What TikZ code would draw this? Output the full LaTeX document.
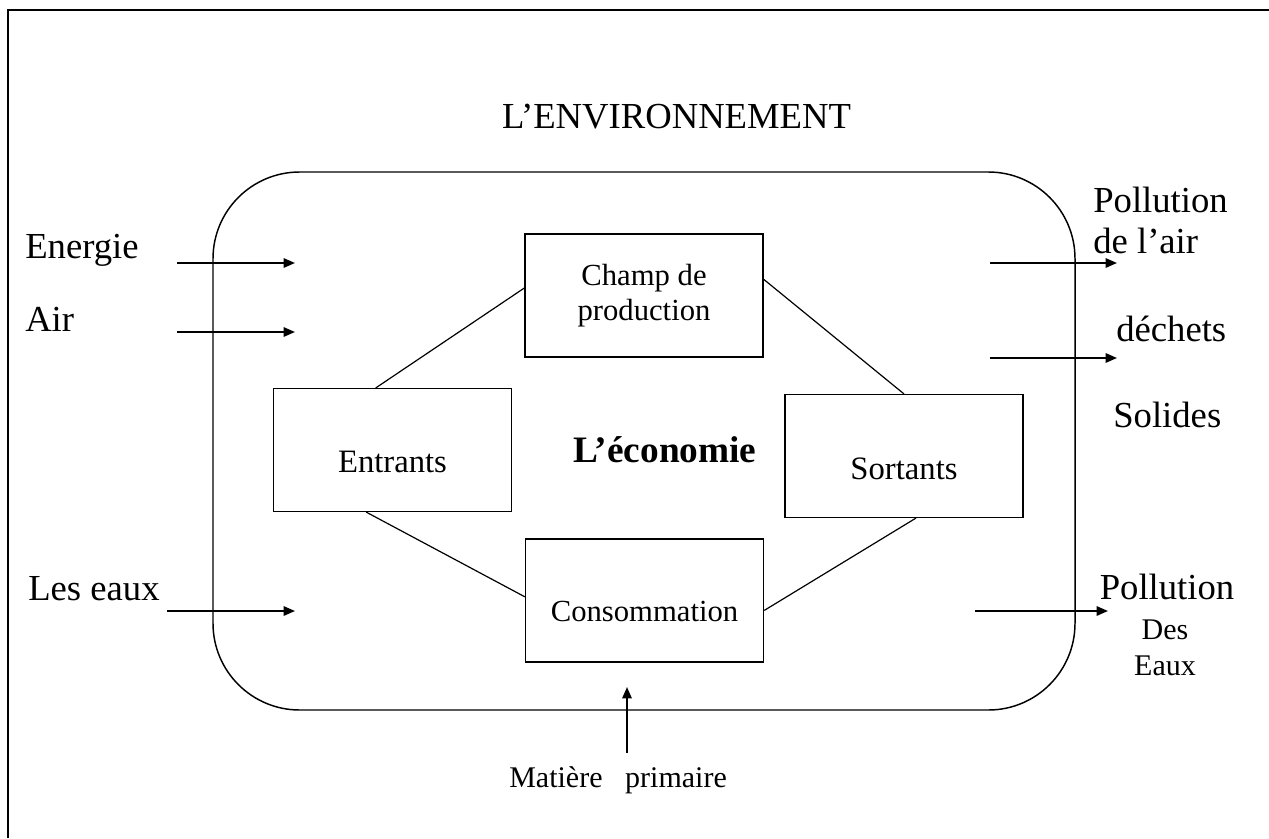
\documentclass[tikz,border=0pt]{standalone}
\usepackage{fontspec}
\setmainfont{Liberation Serif}
\usetikzlibrary{arrows.meta,calc}
\begin{document}
\begin{tikzpicture}[x=0.75pt,y=-0.75pt,
  box/.style={draw,line width=1.1pt,inner sep=0pt,minimum width=178.5pt,minimum height=92pt},
  link/.style={line width=0.9pt},
  flow/.style={line width=1.4pt,-{Triangle[length=8.5pt,width=7pt]}},
  big/.style={font=\fontsize{27.5}{30.75}\selectfont,inner sep=0pt},
  small/.style={font=\fontsize{22.5}{27}\selectfont,inner sep=0pt}]
\useasboundingbox (0,0) rectangle (1269,838);
\fill[white] (0,0) rectangle (1269,838);
% outer frame
\draw[line width=1.5pt] (8,838) -- (8,10) -- (1269,10);
% economy frame
\node[draw,line width=1.1pt,rounded corners=65pt,minimum width=646.5pt,minimum height=403.5pt] (economy) at (644,441) {};
\node[big,anchor=base] (env) at (676.5,128) {L’ENVIRONNEMENT};
% boxes
\node[box,align=center,font=\fontsize{23}{26}\selectfont] (champ) at (644,295.5) {Champ de\\production};
\node[box,font=\fontsize{24.5}{28}\selectfont,text height=33pt,text depth=0pt] (entrants) at (392.5,450) {Entrants};
\node[box,font=\fontsize{24.5}{28}\selectfont,text height=34.5pt,text depth=0pt] (sortants) at (904,456) {Sortants};
\node[box,font=\fontsize{23}{26}\selectfont,text height=30.75pt,text depth=0pt] (conso) at (644.5,600.5) {Consommation};
\node[anchor=base west,inner sep=0pt,font=\fontsize{28}{32}\selectfont\bfseries] (eco) at (573,462) {L’économie};
% connectors
\draw[link] ($(entrants.north west)!0.43!(entrants.north east)$) -- ($(champ.north west)!0.44!(champ.south west)$);
\draw[link] ($(champ.north east)!0.37!(champ.south east)$) -- (sortants.north);
\draw[link] ($(entrants.south west)!0.39!(entrants.south east)$) -- ($(conso.north west)!0.47!(conso.south west)$);
\draw[link] ($(conso.north east)!0.58!(conso.south east)$) -- ($(sortants.south west)!0.55!(sortants.south east)$);
% left labels
\node[big,anchor=base west] (energie) at (25,258) {Energie};
\node[big,anchor=base west] (air) at (25,331) {Air};
\node[big,anchor=base west] (eaux) at (28,600) {Les eaux};
% right labels
\node[big,anchor=base west,align=left] (pollair) at (1093,253) {Pollution\\de l’air};
\node[big,anchor=base west] (dechets) at (1116,341) {déchets};
\node[big,anchor=base west] (solides) at (1113,427) {Solides};
\node[big,anchor=base] (polleaux) at (1167,599) {Pollution};
\node[small,anchor=base,align=center,font=\fontsize{22.5}{27}\selectfont] (deseaux) at (1165,675) {Des\\Eaux};
\node[small,anchor=base west] (matiere) at (509,787) {Matière\hspace{17pt}primaire};
% arrow ends
\coordinate (a1) at (177,263); \coordinate (b1) at (295,263);
\coordinate (a2) at (177,332); \coordinate (b2) at (295,332);
\coordinate (a3) at (167,611); \coordinate (b3) at (295,611);
\coordinate (a4) at (990,263); \coordinate (b4) at (1117,263);
\coordinate (a5) at (990,358); \coordinate (b5) at (1117,358);
\coordinate (a6) at (975,611); \coordinate (b6) at (1108,611);
\coordinate (a7) at (627,753); \coordinate (b7) at (627,687);
\draw[flow] (a1) -- (b1);
\draw[flow] (a2) -- (b2);
\draw[flow] (a3) -- (b3);
\draw[flow] (a4) -- (b4);
\draw[flow] (a5) -- (b5);
\draw[flow] (a6) -- (b6);
\draw[flow] (a7) -- (b7);
\end{tikzpicture}
\end{document}
